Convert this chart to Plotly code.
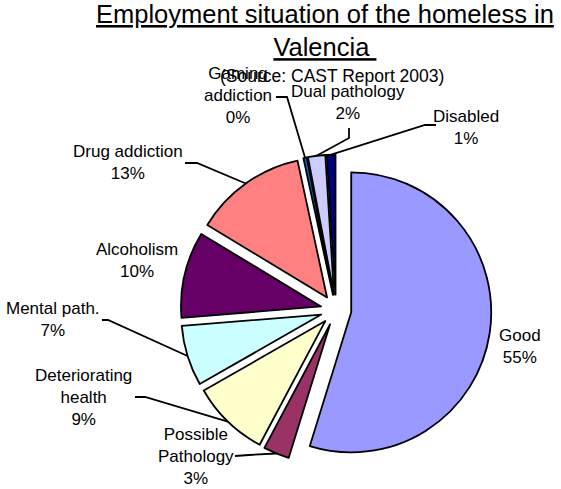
import math
import plotly.graph_objects as go

# Health situation of the homeless, share per category (clockwise from 12 o'clock)
categories = ["Good", "Possible Pathology", "Deteriorating health", "Mental path.",
              "Alcoholism", "Drug addiction", "Gaming addiction", "Dual pathology", "Disabled"]
values = [55, 3, 9, 7, 10, 13, 0.4, 2, 1]
colors = ["#9999FF", "#993366", "#FFFFCC", "#CCFFFF", "#660066",
          "#FF8080", "#0066CC", "#CCCCFF", "#000080"]

# how each category name wraps in its label
label_text = ["Good", "Possible<br>Pathology", "Deteriorating<br>health", "Mental path.",
              "Alcoholism", "Drug addiction", "Gaming<br>addiction", "Dual pathology", "Disabled"]

W, H = 561, 489
PULL = 0.11
CX, CY, R = 336.0, 310.0, 140.0   # pie centre and radius in pixels

# label block centres (pixels)
label_pos = [(520, 346), (196, 456), (83, 397), (53, 319), (137, 260),
             (128, 163), (238, 96), (348, 103), (466, 127)]
# fixed part of each leader line, starting at the label
leader_start = [None, [(235, 456), (249, 455)], [(135, 397), (145, 397)],
                [(102, 320), (108, 320)], None, [(185, 163), (197, 163)],
                [(276, 97), (287, 97)], [(349, 128), (349, 138)],
                [(436, 125), (425, 125)]]


def px(x):
    return x / W


def py(y):
    return 1 - y / H


total = sum(values)
ext = R * (1 + PULL)

fig = go.Figure(go.Pie(
    labels=categories,
    values=values,
    sort=False,
    direction="clockwise",
    rotation=0,
    pull=[PULL] * len(values),
    marker=dict(colors=colors, line=dict(color="black", width=1.8)),
    textinfo="none",
    hoverinfo="label+percent",
    showlegend=False,
    domain=dict(x=[px(CX - ext), px(CX + ext)], y=[py(CY + ext), py(CY - ext)]),
))

annotations = []
shapes = []
cum = 0.0
for i, v in enumerate(values):
    mid = (cum + v / 2) / total * 2 * math.pi
    cum += v
    pct = round(v / total * 100)
    lx, ly = label_pos[i]
    annotations.append(dict(
        x=px(lx), y=py(ly), xref="paper", yref="paper",
        xanchor="center", yanchor="middle", showarrow=False,
        text=f"{label_text[i]}<br>{pct}%",
        font=dict(family="Liberation Sans, Arial, sans-serif", size=17, color="black"),
    ))
    if leader_start[i]:
        edge = (CX + ext * math.sin(mid), CY - ext * math.cos(mid))
        pts = leader_start[i] + [edge]
        path = "M " + " L ".join(f"{px(x):.5f},{py(y):.5f}" for x, y in pts)
        shapes.append(dict(type="path", path=path, xref="paper", yref="paper",
                           line=dict(color="black", width=1.8)))

annotations.append(dict(
    x=px(325), y=py(-2), xref="paper", yref="paper",
    xanchor="center", yanchor="top", showarrow=False,
    text="<u>Employment situation of the homeless in</u><br><u>Valencia\u00a0</u>",
    font=dict(family="Liberation Sans, Arial, sans-serif", size=25.5, color="black"),
))
annotations.append(dict(
    x=px(332), y=py(76), xref="paper", yref="paper",
    xanchor="center", yanchor="middle", showarrow=False,
    text="(Source: CAST Report 2003)",
    font=dict(family="Liberation Sans, Arial, sans-serif", size=17.5, color="black"),
))

fig.update_layout(
    width=W, height=H,
    margin=dict(l=0, r=0, t=0, b=0),
    paper_bgcolor="white",
    plot_bgcolor="white",
    annotations=annotations,
    shapes=shapes,
)

fig.write_html("out.html")
